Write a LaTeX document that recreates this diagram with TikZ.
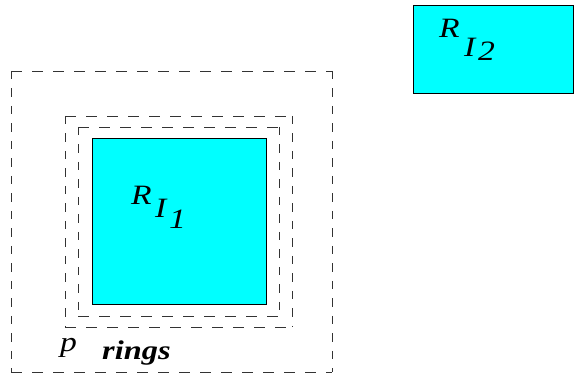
\documentclass[tikz,border=0pt]{standalone}
\usepackage{fontspec}
\setmainfont{Liberation Serif}
% slightly widened serif for the labels
\newfontfamily\labelfont[FakeStretch=1.2]{Liberation Serif}
\definecolor{regioncyan}{RGB}{0,255,255}
\begin{document}
\begin{tikzpicture}[x=1pt,y=-1pt,
  region/.style={draw=black,fill=regioncyan,line width=0.8pt},
  ringh/.style={draw=black!80,line width=0.9pt,dash pattern=on 10.5pt off 10.5pt},
  ringv/.style={draw=black!80,line width=0.9pt,dash pattern=on 8.5pt off 9pt},
  lbl/.style={inner sep=0pt,anchor=base west,font=\labelfont\fontsize{28}{28}\selectfont\itshape}
]
\useasboundingbox (0,0) rectangle (574,374);
% dashed ring: horizontal and vertical sides drawn with their own dash lengths
\newcommand\ringrect[4]{%
  \draw[ringh] (#1,#2) -- (#3,#2);
  \draw[ringh] (#1,#4) -- (#3,#4);
  \draw[ringv] (#1,#2) -- (#1,#4);
  \draw[ringv] (#3,#2) -- (#3,#4);
}
% outer ring
\ringrect{11}{71}{332}{372}
% two inner rings
\ringrect{65}{116}{292}{327}
\ringrect{78}{127}{279}{316}
% regions
\draw[region] (92,138) rectangle (266,304);
\draw[region] (413,5) rectangle (573,93);
% labels of region 1
\node[lbl] (r1) at (131,205) {R};
\node[lbl] (i1) at (155,218) {I};
\node[lbl] (n1) at (169,229) {1};
% labels of region 2
\node[lbl] (r2) at (439,38) {R};
\node[lbl] (i2) at (464,57) {I};
\node[lbl] (n2) at (478,61) {2};
% ring labels
\node[lbl] (p) at (60,352) {p};
\node[lbl,font=\labelfont\fontsize{27}{27}\selectfont\bfseries\itshape] (rings) at (102,360) {rings};
\end{tikzpicture}
\end{document}
